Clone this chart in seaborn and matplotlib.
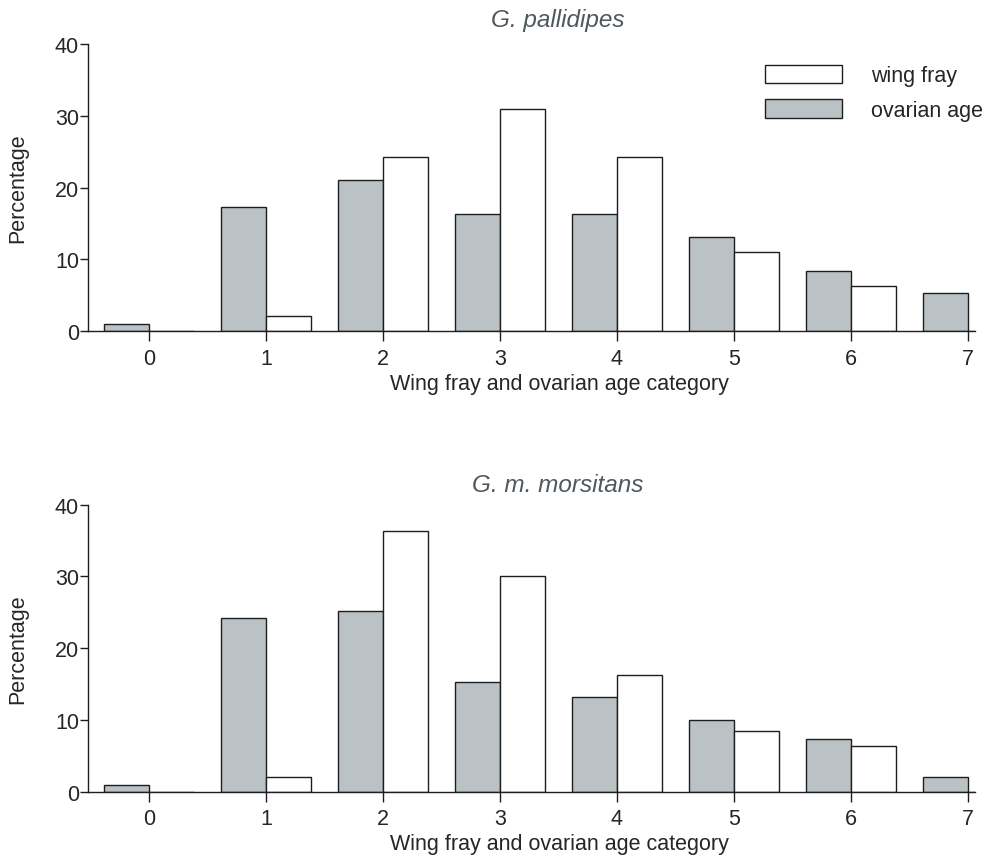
import pandas as pd
import matplotlib.pyplot as plt
import seaborn as sns
from matplotlib.patches import Patch

# 数据
categories = [0, 1, 2, 3, 4, 5, 6, 7]
pallidipes_ovarian = [1.0, 17.3, 21.0, 16.3, 16.3, 13.1, 8.4, 5.3]
pallidipes_wing = [0.0, 2.1, 24.2, 31.0, 24.2, 11.0, 6.3, 0.0]
morsitans_ovarian = [1.0, 24.2, 25.2, 15.3, 13.2, 10.0, 7.4, 2.1]
morsitans_wing = [0.0, 2.1, 36.3, 30.0, 16.3, 8.4, 6.3, 0.0]
titles = ['G. pallidipes', 'G. m. morsitans']

sns.set_style('ticks')
plt.rcParams['font.family'] = ['Liberation Sans', 'DejaVu Sans']

gray = '#bac2c6'
edge = '#1e1e1e'
fs = 15.5

fig = plt.figure(figsize=(9.95, 8.62), dpi=100)
ax1 = fig.add_axes([0.0884, 0.6148, 0.8916, 0.333])
ax2 = fig.add_axes([0.0884, 0.0804, 0.8916, 0.333])

panels = [(ax1, pallidipes_ovarian, pallidipes_wing, titles[0], 13),
          (ax2, morsitans_ovarian, morsitans_wing, titles[1], 10)]

for ax, ov, wf, title, tpad in panels:
    df = pd.DataFrame({
        'category': categories * 2,
        'value': ov + wf,
        'type': ['ovarian age'] * 8 + ['wing fray'] * 8,
    })
    sns.barplot(data=df, x='category', y='value', hue='type',
                hue_order=['ovarian age', 'wing fray'],
                palette={'ovarian age': gray, 'wing fray': 'white'},
                width=0.77, edgecolor=edge, linewidth=1.0, saturation=1,
                legend=False, ax=ax)
    ax.set_xlim(-0.52, 7.06)
    ax.set_ylim(0, 40)
    ax.set_yticks([0, 10, 20, 30, 40])
    ax.set_xlabel('Wing fray and ovarian age category', fontsize=fs)
    ax.xaxis.set_label_coords(0.531, -0.145)
    ax.set_ylabel('Percentage', fontsize=fs, labelpad=19)
    ax.set_title(title, fontsize=17.5, style='italic', color='#4f585e',
                 x=0.53, pad=tpad)
    ax.tick_params(axis='both', labelsize=fs, color=edge, width=1)
    ax.tick_params(axis='x', length=7, pad=5)
    ax.tick_params(axis='y', length=6, pad=0.5)
    sns.despine(ax=ax)
    for s in ['left', 'bottom']:
        ax.spines[s].set_color(edge)
        ax.spines[s].set_linewidth(1.0)

# 图例
handles = [Patch(facecolor='white', edgecolor=edge, linewidth=1.0, label='wing fray'),
           Patch(facecolor=gray, edgecolor=edge, linewidth=1.0, label='ovarian age')]
ax1.legend(handles=handles, loc='upper left', bbox_to_anchor=(0.763, 0.928),
           frameon=False, fontsize=fs, handlelength=3.6, handleheight=0.95,
           handletextpad=1.35, labelspacing=0.6, borderpad=0, borderaxespad=0)

plt.savefig('out.png', dpi=100)
